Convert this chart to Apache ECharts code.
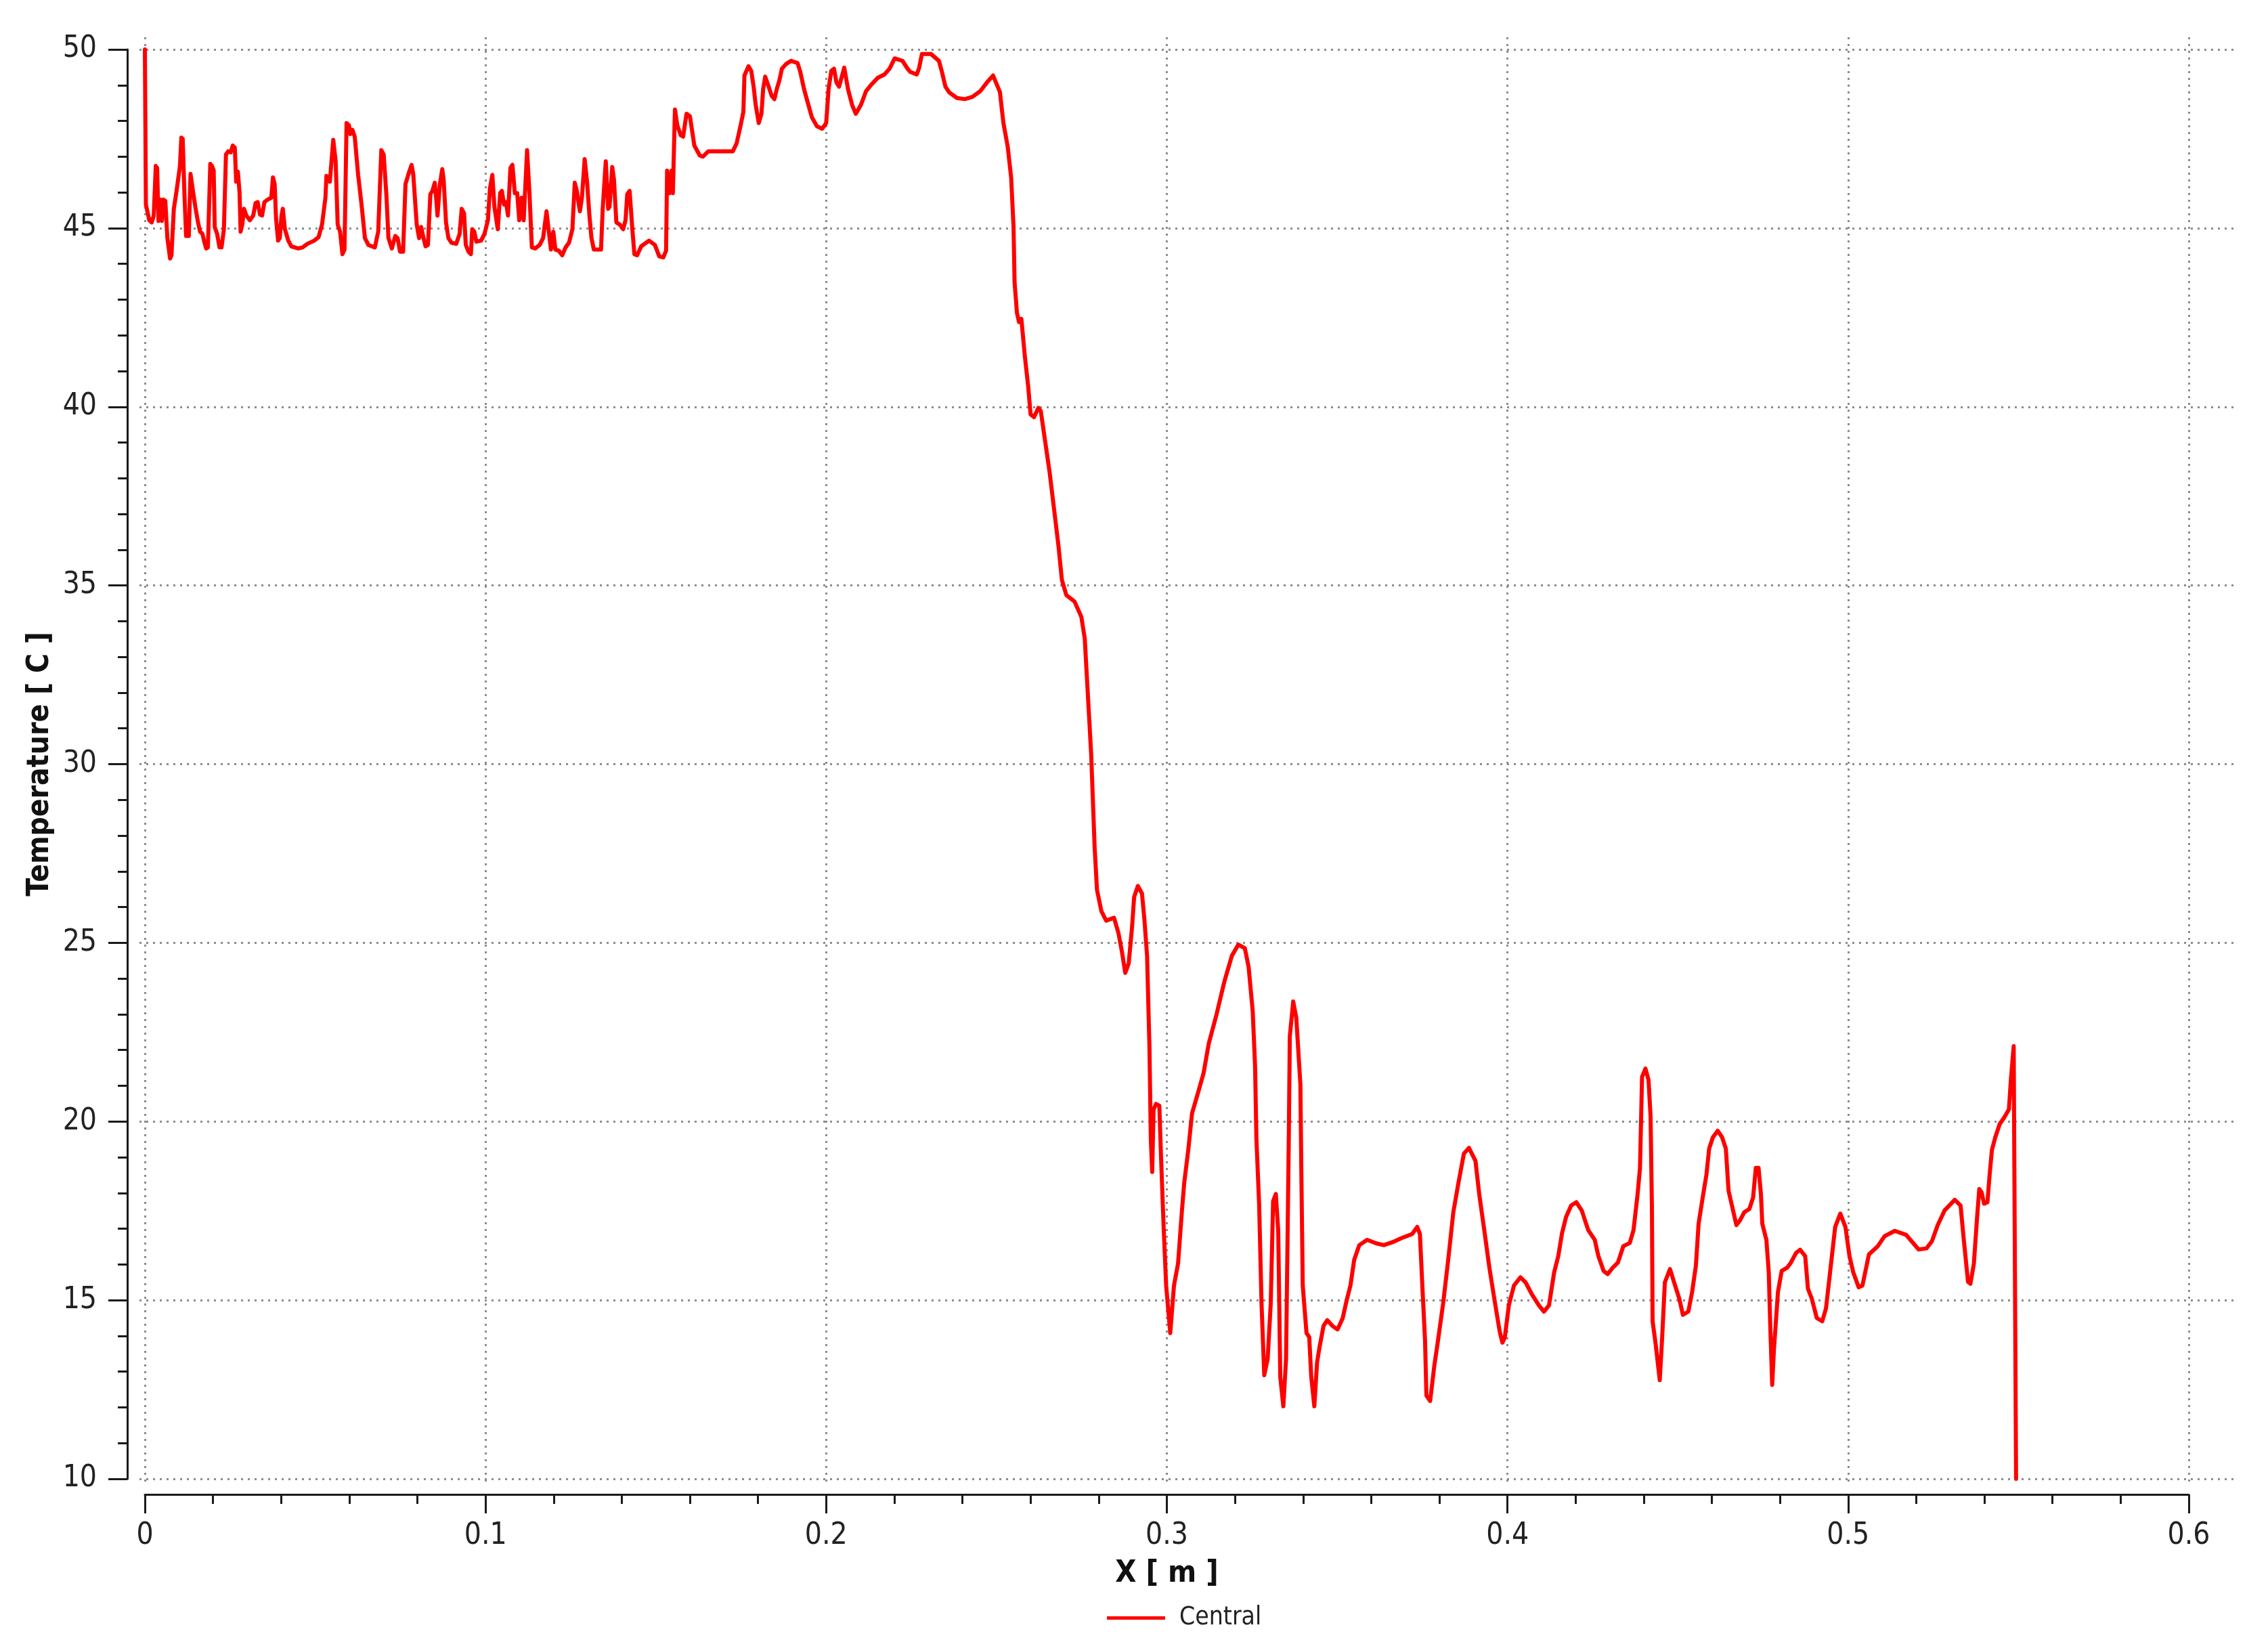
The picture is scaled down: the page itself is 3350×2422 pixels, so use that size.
<!DOCTYPE html>
<html>
<head>
<meta charset="utf-8">
<script src="https://cdn.jsdelivr.net/npm/echarts@6/dist/echarts.min.js"></script>
<style>
html,body{margin:0;padding:0;background:#fff;}
#chart{width:3350px;height:2422px;}
</style>
</head>
<body>
<div id="chart"></div>
<script>
// X position [m]
const xPos = [
0.0000,0.0003,0.0013,0.0020,0.0026,0.0032,0.0036,0.0040,0.0045,0.0050,0.0054,0.0060,0.0066,0.0074,0.0078,0.0085,0.0093,0.0103,0.0107,0.0111,
0.0116,0.0121,0.0129,0.0134,0.0142,0.0149,0.0156,0.0162,0.0169,0.0175,0.0180,0.0185,0.0192,0.0197,0.0202,0.0205,0.0212,0.0219,0.0225,0.0232,
0.0238,0.0245,0.0252,0.0258,0.0264,0.0268,0.0273,0.0278,0.0281,0.0286,0.0291,0.0298,0.0308,0.0318,0.0325,0.0331,0.0338,0.0344,0.0351,0.0361,
0.0371,0.0376,0.0381,0.0385,0.0391,0.0396,0.0401,0.0405,0.0411,0.0421,0.0430,0.0450,0.0463,0.0477,0.0497,0.0510,0.0520,0.0530,0.0533,0.0540,
0.0543,0.0553,0.0560,0.0566,0.0573,0.0580,0.0586,0.0592,0.0599,0.0603,0.0609,0.0616,0.0626,0.0636,0.0646,0.0656,0.0675,0.0685,0.0694,0.0701,
0.0709,0.0715,0.0725,0.0735,0.0742,0.0749,0.0758,0.0765,0.0775,0.0783,0.0788,0.0798,0.0805,0.0811,0.0818,0.0824,0.0831,0.0838,0.0844,0.0851,
0.0855,0.0859,0.0866,0.0873,0.0877,0.0884,0.0891,0.0900,0.0914,0.0924,0.0930,0.0937,0.0942,0.0950,0.0957,0.0961,0.0967,0.0973,0.0987,0.0997,
0.1007,0.1013,0.1020,0.1026,0.1036,0.1043,0.1048,0.1054,0.1060,0.1066,0.1073,0.1079,0.1086,0.1093,0.1099,0.1106,0.1112,0.1122,0.1129,0.1136,
0.1146,0.1159,0.1169,0.1179,0.1185,0.1192,0.1199,0.1205,0.1215,0.1225,0.1235,0.1245,0.1255,0.1262,0.1268,0.1277,0.1283,0.1291,0.1298,0.1305,
0.1311,0.1318,0.1331,0.1339,0.1344,0.1353,0.1360,0.1364,0.1372,0.1377,0.1384,0.1394,0.1404,0.1411,0.1416,0.1423,0.1431,0.1437,0.1445,0.1457,
0.1480,0.1497,0.1510,0.1522,0.1530,0.1533,0.1540,0.1546,0.1550,0.1556,0.1563,0.1573,0.1580,0.1590,0.1600,0.1613,0.1629,0.1638,0.1654,0.1692,
0.1726,0.1737,0.1749,0.1757,0.1760,0.1772,0.1780,0.1787,0.1793,0.1802,0.1810,0.1815,0.1821,0.1829,0.1840,0.1848,0.1855,0.1863,0.1870,0.1882,
0.1897,0.1916,0.1924,0.1935,0.1946,0.1958,0.1973,0.1988,0.2000,0.2007,0.2015,0.2023,0.2030,0.2038,0.2045,0.2053,0.2064,0.2076,0.2087,0.2102,
0.2117,0.2133,0.2152,0.2171,0.2186,0.2201,0.2224,0.2239,0.2247,0.2266,0.2273,0.2281,0.2308,0.2331,0.2339,0.2350,0.2361,0.2384,0.2407,0.2429,
0.2452,0.2475,0.2490,0.2510,0.2520,0.2533,0.2543,0.2550,0.2553,0.2560,0.2566,0.2573,0.2583,0.2593,0.2600,0.2610,0.2623,0.2630,0.2643,0.2656,
0.2669,0.2682,0.2692,0.2705,0.2729,0.2749,0.2759,0.2765,0.2772,0.2778,0.2782,0.2788,0.2795,0.2808,0.2822,0.2845,0.2858,0.2868,0.2878,0.2888,
0.2898,0.2904,0.2915,0.2927,0.2934,0.2942,0.2949,0.2953,0.2957,0.2961,0.2968,0.2978,0.2983,0.2991,0.2998,0.3010,0.3021,0.3033,0.3044,0.3051,
0.3063,0.3074,0.3093,0.3108,0.3123,0.3146,0.3169,0.3191,0.3210,0.3229,0.3240,0.3252,0.3259,0.3263,0.3271,0.3278,0.3286,0.3296,0.3305,0.3312,
0.3320,0.3327,0.3333,0.3342,0.3350,0.3358,0.3361,0.3371,0.3380,0.3392,0.3395,0.3399,0.3410,0.3418,0.3424,0.3433,0.3441,0.3448,0.3460,0.3471,
0.3486,0.3501,0.3516,0.3528,0.3539,0.3550,0.3565,0.3588,0.3615,0.3637,0.3667,0.3690,0.3720,0.3735,0.3743,0.3750,0.3758,0.3762,0.3773,0.3785,
0.3796,0.3811,0.3826,0.3841,0.3856,0.3872,0.3887,0.3906,0.3917,0.3932,0.3947,0.3962,0.3977,0.3985,0.3992,0.4004,0.4019,0.4038,0.4053,0.4073,
0.4092,0.4107,0.4122,0.4137,0.4149,0.4160,0.4172,0.4187,0.4202,0.4218,0.4237,0.4256,0.4267,0.4282,0.4294,0.4309,0.4324,0.4340,0.4359,0.4370,
0.4382,0.4389,0.4395,0.4405,0.4414,0.4420,0.4424,0.4426,0.4435,0.4447,0.4454,0.4462,0.4477,0.4489,0.4504,0.4515,0.4531,0.4542,0.4553,0.4561,
0.4573,0.4584,0.4592,0.4603,0.4617,0.4630,0.4641,0.4649,0.4660,0.4672,0.4683,0.4695,0.4710,0.4721,0.4729,0.4737,0.4744,0.4748,0.4760,0.4767,
0.4771,0.4777,0.4782,0.4794,0.4805,0.4821,0.4832,0.4847,0.4859,0.4874,0.4882,0.4893,0.4908,0.4924,0.4935,0.4947,0.4962,0.4977,0.4992,0.5004,
0.5015,0.5031,0.5042,0.5061,0.5087,0.5107,0.5137,0.5170,0.5207,0.5230,0.5246,0.5263,0.5283,0.5313,0.5330,0.5339,0.5352,0.5359,0.5369,0.5379,
0.5385,0.5392,0.5399,0.5409,0.5415,0.5422,0.5432,0.5445,0.5458,0.5472,0.5478,0.5486,0.5493
];
// Temperature [C]
const temp = [
50.0,45.66,45.22,45.16,45.35,46.74,46.68,45.2,45.8,45.2,45.8,45.76,44.72,44.15,44.24,45.54,46.04,46.74,47.53,47.5,
45.98,44.78,44.78,46.52,45.98,45.54,45.16,44.9,44.84,44.59,44.43,44.46,46.8,46.74,46.61,45.03,44.84,44.46,44.46,44.97,
47.06,47.15,47.12,47.31,47.25,46.3,46.58,45.98,44.9,45.1,45.54,45.35,45.22,45.35,45.7,45.73,45.38,45.35,45.73,45.8,
45.85,46.42,46.23,45.28,44.65,44.72,45.35,45.54,44.97,44.65,44.49,44.43,44.46,44.56,44.65,44.75,45.1,45.85,46.46,46.36,
46.3,47.47,46.87,45.1,44.9,44.27,44.4,47.94,47.88,47.63,47.75,47.56,46.49,45.66,44.72,44.53,44.46,44.9,47.18,47.06,
45.92,44.72,44.43,44.78,44.72,44.34,44.34,46.23,46.55,46.77,46.49,45.1,44.72,45.03,44.72,44.49,44.53,45.95,46.04,46.27,
45.85,45.35,46.23,46.65,46.36,45.16,44.72,44.59,44.56,44.84,45.54,45.41,44.53,44.34,44.27,44.97,44.9,44.62,44.65,44.84,
45.22,46.11,46.49,45.6,44.97,45.98,46.04,45.66,45.73,45.35,46.68,46.77,45.98,45.98,45.22,45.85,45.22,47.18,45.98,44.46,
44.43,44.53,44.72,45.47,44.97,44.4,44.9,44.4,44.37,44.24,44.46,44.59,44.97,46.27,46.04,45.47,45.85,46.93,46.3,45.35,
44.72,44.4,44.4,44.4,45.54,46.87,45.54,45.6,46.71,46.36,45.16,45.1,44.97,45.22,45.95,46.04,44.97,44.27,44.24,44.49,
44.65,44.53,44.21,44.18,44.37,46.61,45.98,46.61,45.98,48.32,47.88,47.6,47.56,48.2,48.13,47.31,47.03,47.0,47.15,47.15,
47.15,47.37,47.88,48.26,49.27,49.53,49.4,48.96,48.45,47.94,48.2,48.89,49.24,49.02,48.7,48.61,48.89,49.15,49.46,49.59,
49.68,49.62,49.37,48.89,48.51,48.1,47.85,47.78,47.94,48.89,49.4,49.46,49.08,48.96,49.21,49.49,48.89,48.45,48.2,48.45,
48.83,49.02,49.21,49.3,49.46,49.75,49.68,49.46,49.37,49.3,49.49,49.87,49.87,49.68,49.4,48.96,48.8,48.64,48.61,48.67,
48.83,49.11,49.27,48.81,47.96,47.27,46.41,45.03,43.49,42.63,42.37,42.46,41.43,40.57,39.79,39.71,39.97,39.88,39.02,38.16,
37.13,36.1,35.15,34.73,34.55,34.12,33.52,32.49,31.29,30.26,29.23,27.68,26.48,25.88,25.62,25.7,25.27,24.76,24.16,24.42,
25.45,26.28,26.59,26.38,25.67,24.64,22.08,19.51,18.59,20.33,20.49,20.44,19.0,16.95,15.41,14.08,15.41,16.03,17.46,18.28,
19.21,20.23,20.85,21.36,22.18,23.0,23.92,24.64,24.95,24.85,24.33,23.1,21.56,19.51,17.67,14.9,12.9,13.36,14.9,17.77,
17.97,16.95,12.85,12.03,13.36,19.51,22.38,23.36,22.9,21.05,18.49,15.41,14.08,13.97,12.85,12.03,13.26,13.67,14.28,14.44,
14.28,14.18,14.49,15.0,15.41,16.13,16.54,16.69,16.59,16.54,16.64,16.74,16.85,17.05,16.85,15.41,13.87,12.33,12.18,13.15,
13.87,14.9,16.13,17.46,18.28,19.1,19.26,18.9,17.97,16.95,15.9,15.0,14.13,13.81,13.95,14.86,15.41,15.64,15.5,15.14,
14.86,14.68,14.86,15.78,16.23,16.87,17.33,17.65,17.74,17.51,16.96,16.69,16.23,15.82,15.73,15.91,16.05,16.51,16.6,16.96,
17.97,18.7,21.25,21.48,21.16,20.16,17.6,14.41,13.77,12.76,13.95,15.5,15.87,15.5,15.05,14.59,14.68,15.23,15.96,17.14,
17.87,18.51,19.24,19.56,19.74,19.56,19.24,18.06,17.6,17.1,17.24,17.46,17.55,17.87,18.7,18.7,17.97,17.14,16.69,15.78,
14.41,12.63,13.59,15.23,15.82,15.91,16.05,16.32,16.41,16.23,15.32,15.05,14.5,14.41,14.77,15.78,17.05,17.42,17.05,16.23,
15.78,15.36,15.41,16.28,16.51,16.79,16.94,16.83,16.42,16.45,16.65,17.1,17.51,17.81,17.65,16.74,15.51,15.46,16.01,17.38,
18.11,18.01,17.7,17.74,18.47,19.2,19.56,19.93,20.11,20.34,21.2,22.11,10.0
];
const seriesName = 'Central';
const xTitle = 'X [ m ]';
const yTitle = 'Temperature [ C ]';
const xTicks = [0, 0.6, 0.1];   // min, max, interval
const yTicks = [10, 50, 5];     // min, max, interval

const FONT = "'DejaVu Sans Condensed','DejaVu Sans',sans-serif";
const pts = xPos.map((x, i) => [x, temp[i]]);
const gridDot = {color: '#8c8c8c', width: 3, type: [3, 7]};

const chart = echarts.init(document.getElementById('chart'), null, {renderer: 'canvas'});
chart.setOption({
  backgroundColor: '#ffffff',
  animation: false,
  grid: [
    {left: 214, right: 117, top: 73, bottom: 238, containLabel: false},
    {left: 206, right: 47, top: 73, bottom: 238, containLabel: false},
    {left: 214, right: 117, top: 55, bottom: 227, containLabel: false}
  ],
  xAxis: [
    {
      type: 'value', gridIndex: 0, min: xTicks[0], max: xTicks[1], interval: xTicks[2],
      offset: 23,
      axisLine: {show: true, onZero: false, lineStyle: {color: '#1a1a1a', width: 3}},
      axisTick: {show: true, length: 28, lineStyle: {color: '#1a1a1a', width: 3}},
      minorTick: {show: true, splitNumber: 5, length: 14, lineStyle: {color: '#1a1a1a', width: 3}},
      splitLine: {show: false},
      axisLabel: {show: true, margin: 40, color: '#222', fontFamily: FONT, fontSize: 44,
        formatter: v => (Math.round(v * 10) / 10).toString()},
      name: xTitle, nameLocation: 'middle', nameGap: 95,
      nameTextStyle: {fontFamily: FONT, fontWeight: 'bold', fontSize: 45, color: '#111'}
    },
    {type: 'value', gridIndex: 1, min: 0, max: 1, show: false},
    {
      type: 'value', gridIndex: 2, min: xTicks[0], max: xTicks[1], interval: xTicks[2],
      axisLine: {show: false}, axisTick: {show: false}, axisLabel: {show: false},
      splitLine: {show: true, lineStyle: gridDot}
    }
  ],
  yAxis: [
    {
      type: 'value', gridIndex: 0, min: yTicks[0], max: yTicks[1], interval: yTicks[2],
      offset: 26,
      axisLine: {show: true, onZero: false, lineStyle: {color: '#1a1a1a', width: 3}},
      axisTick: {show: true, length: 28, lineStyle: {color: '#1a1a1a', width: 3}},
      minorTick: {show: true, splitNumber: 5, length: 14, lineStyle: {color: '#1a1a1a', width: 3}},
      splitLine: {show: false},
      axisLabel: {show: true, margin: 45, color: '#222', fontFamily: FONT, fontSize: 44},
      name: yTitle, nameLocation: 'middle', nameGap: 106, nameRotate: 90,
      nameTextStyle: {fontFamily: FONT, fontWeight: 'bold', fontSize: 44, color: '#111'}
    },
    {
      type: 'value', gridIndex: 1, min: yTicks[0], max: yTicks[1], interval: yTicks[2],
      axisLine: {show: false}, axisTick: {show: false}, axisLabel: {show: false},
      splitLine: {show: true, lineStyle: gridDot}
    },
    {type: 'value', gridIndex: 2, min: 0, max: 1, show: false}
  ],
  legend: {
    show: true, left: 1630, top: 2366, orient: 'horizontal',
    itemWidth: 86, itemHeight: 40, itemGap: 20,
    icon: 'path://M0,0 L86,0 L86,5 L0,5 Z',
    textStyle: {fontFamily: FONT, fontSize: 37, color: '#222', padding: [0, 0, 0, 16]},
    data: [{name: seriesName, itemStyle: {color: '#ff0000'}}]
  },
  series: [{
    name: seriesName, type: 'line', xAxisIndex: 0, yAxisIndex: 0,
    data: pts, symbol: 'none', smooth: false, clip: false,
    lineStyle: {color: '#ff0000', width: 6, join: 'round', cap: 'round'},
    itemStyle: {color: '#ff0000'},
    z: 5
  }]
});
</script>
</body>
</html>
